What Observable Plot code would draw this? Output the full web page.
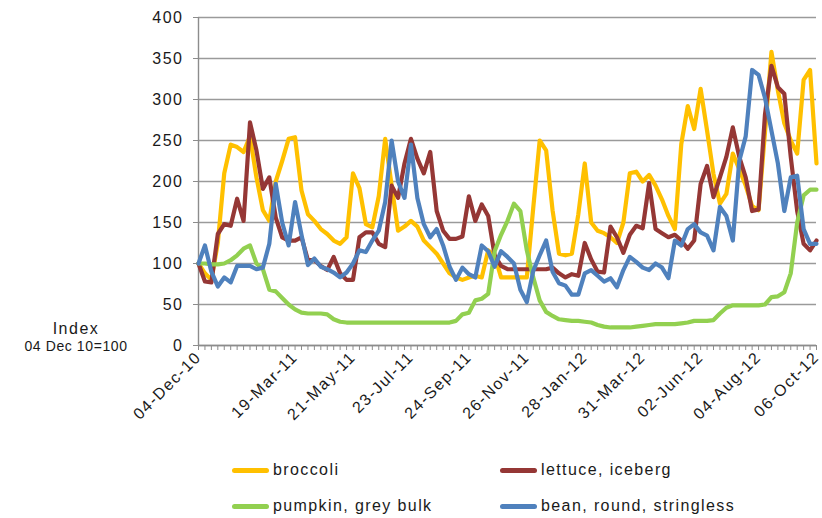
<!DOCTYPE html>
<html><head><meta charset="utf-8">
<script src="https://cdn.jsdelivr.net/npm/d3@7"></script>
<script src="https://cdn.jsdelivr.net/npm/@observablehq/plot@0.6"></script>
<style>
body{margin:0;background:#fff;font-family:"Liberation Sans",Arial,sans-serif;}
#wrap{position:relative;width:822px;height:518px;overflow:hidden;}
.leg{position:absolute;display:flex;align-items:center;font-size:16px;letter-spacing:1.4px;color:#1a1a1a;white-space:nowrap;}
.leg .sw{display:inline-block;width:37px;height:5px;border-radius:3px;margin-right:4px;}
</style></head><body><div id="wrap"></div><script>
// ---- data ----
const startDate = "04-Dec-10";
const endDate = "06-Oct-12";
const xTickLabels = ["04-Dec-10","19-Mar-11","21-May-11","23-Jul-11","24-Sep-11","26-Nov-11","28-Jan-12","31-Mar-12","02-Jun-12","04-Aug-12","06-Oct-12"];
const yTicks = [0,50,100,150,200,250,300,350,400];
const seriesNames = ["broccoli","lettuce, iceberg","pumpkin, grey bulk","bean, round, stringless"];
const seriesColors = ["#FFC000","#953735","#92D050","#4F81BD"];

const broccoli = [100,88,80,125,210,245,242,236,255,205,165,152,200,225,252,254,189,160,152,142,
136,128,124,132,210,192,148,144,182,252,195,140,145,152,145,128,120,112,100,88,
83,80,83,85,83,116,110,83,83,83,83,83,168,250,238,165,112,110,112,160,
222,150,140,137,132,125,150,210,212,200,208,195,178,158,142,246,292,264,313,262,
209,173,185,234,215,195,170,165,260,358,311,271,250,234,324,336,222];
const lettuce = [100,78,77,136,148,146,179,152,272,238,191,205,156,132,128,128,132,104,104,97,
92,108,88,80,80,132,138,138,124,120,195,180,222,252,228,210,236,164,140,130,
130,133,182,152,172,158,110,97,93,93,93,93,93,93,93,95,88,83,87,85,
125,105,90,89,145,132,113,135,146,143,198,142,137,132,135,128,118,128,197,219,
181,205,230,266,230,205,164,166,282,341,315,307,230,164,124,116,128];
const pumpkin = [100,100,99,99,100,104,110,118,122,100,93,68,66,58,50,44,40,39,39,39,
38,32,29,28,28,28,28,28,28,28,28,28,28,28,28,28,28,28,28,28,
30,38,40,55,57,63,115,135,152,173,164,116,83,55,41,36,32,31,30,30,
29,28,25,23,22,22,22,22,23,24,25,26,26,26,26,27,28,30,30,30,
31,39,46,49,49,49,49,49,50,59,60,65,88,150,183,190,190];
const bean = [100,122,90,72,83,77,97,97,97,93,95,124,197,150,122,175,135,98,106,96,
93,89,83,89,100,116,114,128,140,175,250,200,180,245,180,148,132,142,122,96,
80,95,87,83,122,115,96,115,108,100,68,53,91,110,128,90,76,73,62,62,
88,92,85,78,82,71,92,108,102,95,92,100,95,82,128,122,142,148,138,134,
116,169,158,128,225,255,336,330,302,262,222,164,205,207,142,124,124];
const seriesValues = [broccoli, lettuce, pumpkin, bean];

// ---- build ----
const parse = d3.utcParse("%d-%b-%y");
const fmt = d3.utcFormat("%d-%b-%y");
const x0 = parse(startDate), x1 = parse(endDate);
const weeks = d3.utcSaturday.range(x0, d3.utcDay.offset(x1, 1));
const labelDates = xTickLabels.map(parse);
const series = seriesNames.map((name, k) => ({
  name, color: seriesColors[k],
  rows: seriesValues[k].map((v, i) => ({date: weeks[i], value: v}))
}));

const W = 822, H = 445;
const chart = Plot.plot({
  width: W, height: H,
  marginLeft: 198, marginRight: 6, marginTop: 17, marginBottom: 100,
  style: {fontFamily: "'Liberation Sans', Arial, sans-serif", fontSize: "16px", letterSpacing: "1.5px", color: "#1a1a1a", background: "#fff"},
  x: {type: "utc", domain: [x0, x1]},
  y: {domain: [0, 400]},
  marks: [
    Plot.gridY(yTicks, {stroke: "#9a9a9a", strokeOpacity: 1, strokeWidth: 1.4}),
    Plot.axisY({ticks: yTicks, tickSize: 5, tickPadding: 10, stroke: "#8c8c8c", fill: "#1a1a1a", label: null}),
    Plot.axisX({ticks: weeks, tickSize: 5, tickFormat: () => "", stroke: "#8c8c8c", label: null}),
    Plot.axisX({ticks: labelDates, tickSize: 0, tickPadding: 9, tickRotate: -45, tickFormat: fmt, fill: "#1a1a1a", label: null}),
    Plot.ruleX([x0], {stroke: "#8c8c8c", strokeWidth: 1.4}),
    Plot.ruleY([0], {stroke: "#8c8c8c", strokeWidth: 1.4}),
    ...series.map(s => Plot.line(s.rows, {x: "date", y: "value", stroke: s.color, strokeWidth: 4.2, strokeLinejoin: "round", strokeLinecap: "round"}))
  ]
});
const wrap = document.getElementById("wrap");
wrap.appendChild(chart);

// y-axis title (left of axis)
const svg = d3.select(chart);
svg.append("text").attr("x", 76).attr("y", 334).attr("text-anchor", "middle")
  .style("font-size", "16px").style("letter-spacing", "1.5px").attr("fill", "#1a1a1a").text("Index");
svg.append("text").attr("x", 76).attr("y", 351).attr("text-anchor", "middle")
  .style("font-size", "14px").style("letter-spacing", "0.6px").attr("fill", "#1a1a1a").text("04 Dec 10=100");

// legend
const legPos = [[232, 470], [500, 470], [232, 506], [500, 506]];
series.forEach((s, k) => {
  const d = document.createElement("div");
  d.className = "leg";
  d.style.left = legPos[k][0] + "px";
  d.style.top = (legPos[k][1] - 11) + "px";
  d.style.height = "22px";
  d.innerHTML = `<span class="sw" style="background:${s.color}"></span>`;
  d.appendChild(document.createTextNode(s.name));
  wrap.appendChild(d);
});
</script></body></html>
